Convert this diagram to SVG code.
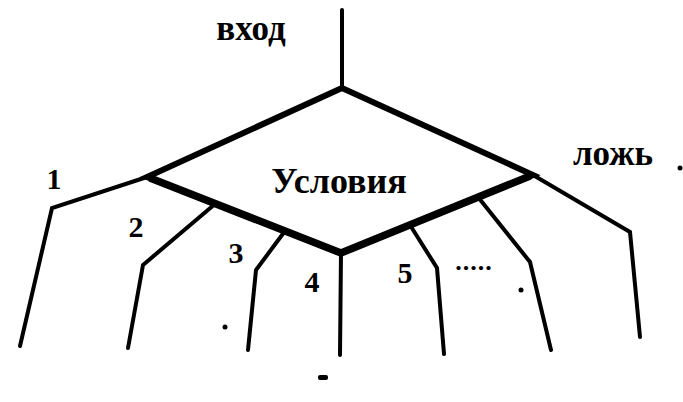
<svg xmlns="http://www.w3.org/2000/svg" width="683" height="402" viewBox="0 0 683 402">
<style>
.t{font-family:"Liberation Serif","Times New Roman",serif;font-weight:bold;fill:#000}
.d{fill:none;stroke:#000;stroke-width:6;stroke-linejoin:miter}
.dl{fill:none;stroke:#000;stroke-width:7.5;stroke-linejoin:miter}
.b{fill:none;stroke:#000;stroke-width:4;stroke-linejoin:miter;stroke-linecap:round}
</style>
<rect width="683" height="402" fill="#fff"/>
<g id="condition">
<polygon class="d" points="342,88 147,177 341,253 533,175"/>
<polyline class="dl" points="150,178 341,253 530,176"/>
<text class="t" x="339" y="193" font-size="36" text-anchor="middle">Условия</text>
</g>
<g id="connectors">
<line class="b" x1="342" y1="10" x2="342" y2="88"/>
<polyline class="b" points="147,177 52,208 20,346"/>
<polyline class="b" points="215,204 143,265 128,348"/>
<polyline class="b" points="285,231 256,270 248,350"/>
<polyline class="b" points="341,253 340,355"/>
<polyline class="b" points="410,225 437,268 444,354"/>
<polyline class="b" points="478,197 530,262 551,350"/>
<polyline class="b" points="533,175 630,232 640,337"/>
</g>
<g id="labels">
<text class="t" x="251" y="40" font-size="35" text-anchor="middle">вход</text>
<text class="t" x="613" y="165" font-size="35" text-anchor="middle">ложь</text>
<text class="t" x="54" y="189" font-size="30" text-anchor="middle">1</text>
<text class="t" x="136" y="237" font-size="30" text-anchor="middle">2</text>
<text class="t" x="236" y="263" font-size="30" text-anchor="middle">3</text>
<text class="t" x="312" y="292" font-size="30" text-anchor="middle">4</text>
<text class="t" x="405" y="283" font-size="30" text-anchor="middle">5</text>
<text class="t" x="474" y="270" font-size="26" letter-spacing="1" text-anchor="middle">.....</text>
</g>
<g id="marks">
<circle cx="521" cy="290" r="2.5"/>
<circle cx="680" cy="168" r="2.5"/>
<circle cx="225" cy="327" r="2.5"/>
<rect x="318" y="375" width="10" height="5" rx="2"/>
</g>
</svg>
